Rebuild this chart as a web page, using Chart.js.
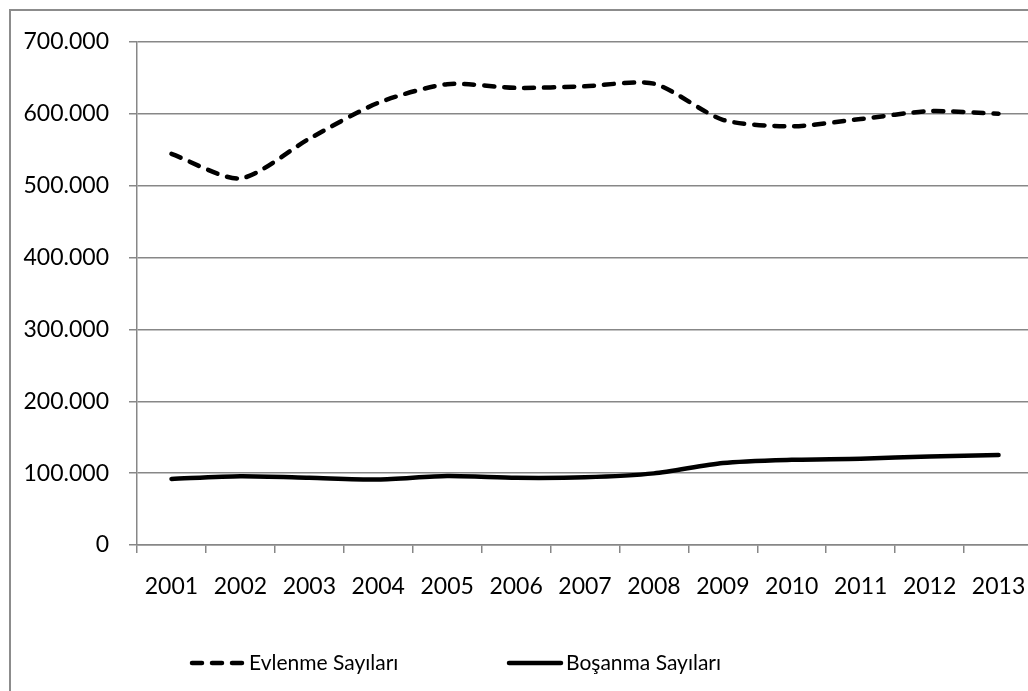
<!DOCTYPE html>
<html lang="tr">
<head>
<meta charset="utf-8">
<title>Evlenme ve Boşanma Sayıları 2001-2013</title>
<script src="https://cdn.jsdelivr.net/npm/chart.js@4.4.1/dist/chart.umd.min.js"></script>
<style>
  html, body { margin: 0; padding: 0; background: #fff; }
  #wrap { width: 1028px; height: 691px; overflow: hidden; position: relative; }
  #chart { display: block; }
</style>
</head>
<body>
<div id="wrap"><canvas id="chart" width="1050" height="710"></canvas></div>
<script>
// ====================================
// DATA
// ====================================
const years = ['2001', '2002', '2003', '2004', '2005', '2006', '2007', '2008', '2009', '2010', '2011', '2012', '2013'];
const marriages = [544322, 510155, 565468, 615357, 641241, 636121, 638311, 641973, 591742, 582715, 592775, 603751, 600138];
const divorces = [91994, 95623, 93489, 91022, 95895, 93489, 94219, 99663, 114162, 118568, 120117, 123325, 125305];
const seriesNames = ['Evlenme Sayıları', 'Boşanma Sayıları'];
const yMax = 700000;
const yStep = 100000;

const FONT = 'Lato, "Open Sans", sans-serif';
const GRID = '#878787';

// thousands separator with a dot, as in the original
const fmt = (v) => String(v).replace(/\B(?=(\d{3})+(?!\d))/g, '.');

/**
 * Frame + background, drawn before everything
 */
const framePlugin = {
  id: 'frame',
  beforeDraw(chart) {
    const { ctx, width, height } = chart;
    ctx.save();
    ctx.fillStyle = '#fff';
    ctx.fillRect(0, 0, width, height);
    ctx.strokeStyle = '#8c8c8c';
    ctx.lineWidth = 2;
    ctx.strokeRect(10, 10, width + 20, height + 20); // right/bottom edges fall outside, like the reference crop
    ctx.restore();
  }
};

/**
 * Bottom legend with wide spacing between the two items
 */
const legendPlugin = {
  id: 'wideLegend',
  afterDraw(chart, args, opts) {
    const { ctx } = chart;
    ctx.save();
    ctx.font = `${opts.fontSize}px ${FONT}`;
    ctx.textBaseline = 'middle';
    ctx.fillStyle = '#000';
    chart.data.datasets.forEach((ds, i) => {
      const x = opts.starts[i];
      const y = opts.y;
      ctx.beginPath();
      ctx.setLineDash(ds.borderDash || []);
      ctx.lineCap = ds.borderCapStyle || 'butt';
      ctx.lineWidth = ds.borderWidth;
      ctx.strokeStyle = ds.borderColor;
      ctx.moveTo(x + 2, y);
      ctx.lineTo(x + opts.sample - 2, y);
      ctx.stroke();
      ctx.setLineDash([]);
      ctx.fillText(ds.label, x + opts.sample + 3, y);
    });
    ctx.restore();
  }
};

const ctx = document.getElementById('chart').getContext('2d');

new Chart(ctx, {
  type: 'line',
  data: {
    labels: years,
    datasets: [
      {
        label: seriesNames[0],
        data: marriages,
        borderColor: '#000',
        borderWidth: 4.5,
        borderDash: [10, 10],
        borderCapStyle: 'round',
        tension: 0.25,
        pointRadius: 0,
        fill: false
      },
      {
        label: seriesNames[1],
        data: divorces,
        borderColor: '#000',
        borderWidth: 4.5,
        borderCapStyle: 'round',
        tension: 0.25,
        pointRadius: 0,
        fill: false
      }
    ]
  },
  options: {
    responsive: false,
    animation: false,
    layout: {
      padding: { left: 0, top: 42, right: 17, bottom: 0 }
    },
    plugins: {
      legend: { display: false },
      tooltip: { enabled: false },
      wideLegend: { y: 663, starts: [190, 507], sample: 56, fontSize: 21 }
    },
    scales: {
      x: {
        offset: true,
        afterFit(scale) { scale.height = 165; },
        grid: {
          offset: true,
          drawOnChartArea: false,
          drawTicks: true,
          tickLength: 8,
          color: GRID,
          lineWidth: 1.5
        },
        border: { display: true, color: GRID, width: 1.5 },
        ticks: {
          color: '#000',
          padding: 20,
          maxRotation: 0,
          font: { family: FONT, size: 23 }
        }
      },
      y: {
        min: 0,
        max: yMax,
        afterFit(scale) { scale.width = 137; },
        grid: {
          color: GRID,
          lineWidth: 1.5,
          drawTicks: true,
          tickLength: 8
        },
        border: { display: true, color: GRID, width: 1.5 },
        ticks: {
          stepSize: yStep,
          color: '#000',
          padding: 20,
          font: { family: FONT, size: 23 },
          callback: (v) => fmt(v)
        }
      }
    }
  },
  plugins: [framePlugin, legendPlugin]
});
</script>
</body>
</html>
